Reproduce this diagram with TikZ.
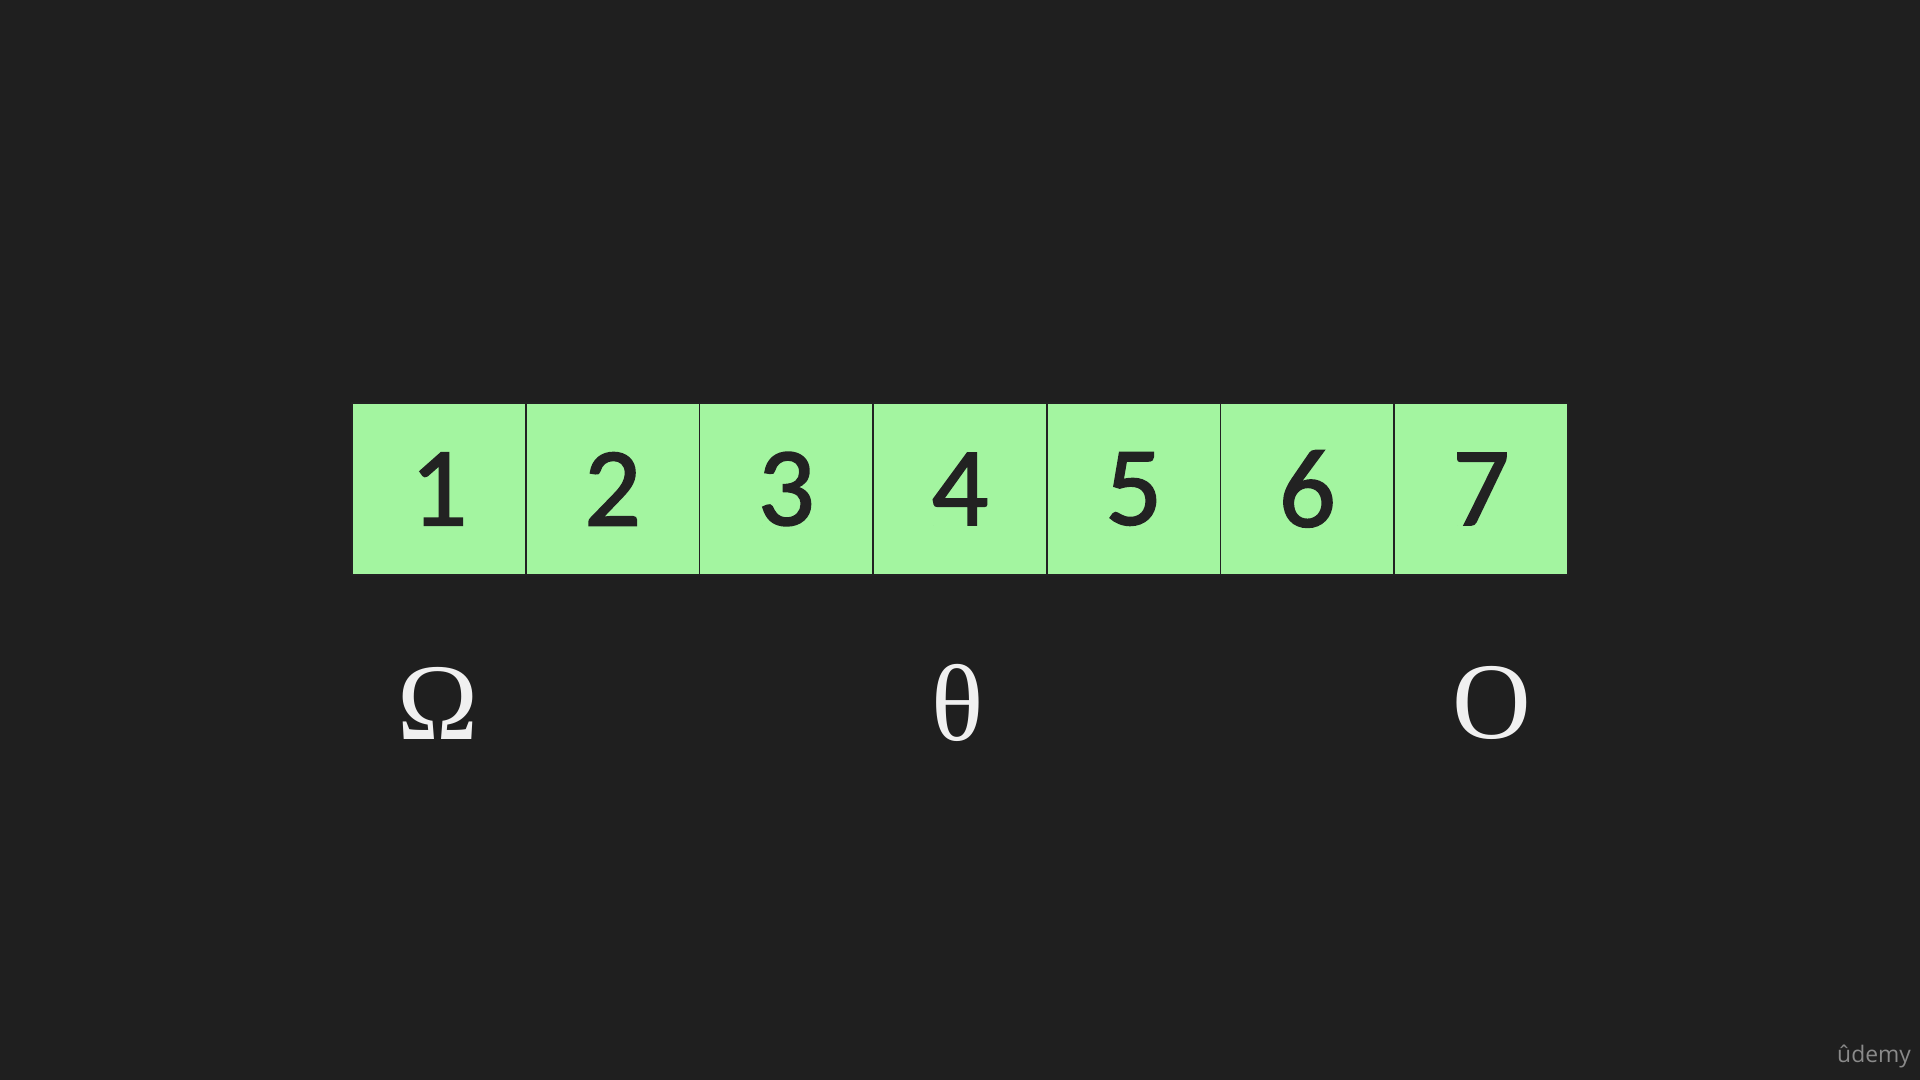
\documentclass[tikz,border=0pt]{standalone}
\usepackage{fontspec}
\setmainfont{Liberation Serif}
\newfontfamily\cellfont[BoldFont=Carlito, BoldFeatures={FakeBold=1.5}]{Carlito}
\newfontfamily\logofont{Open Sans}
\definecolor{bgdark}{HTML}{1F1F1F}
\definecolor{cellgreen}{HTML}{A3F5A0}
\definecolor{inkdark}{HTML}{222222}
\definecolor{symwhite}{HTML}{F0F0F0}
\definecolor{logogray}{HTML}{8A8A8A}
\tikzset{
  cell/.style={rectangle, draw=inkdark, line width=0.5pt, fill=cellgreen, text=inkdark,
    minimum width=1.737cm, minimum height=1.72cm, inner sep=0pt, outer sep=0pt,
    font=\cellfont\bfseries\fontsize{32}{38}\selectfont},
  bound/.style={text=symwhite, inner sep=0pt, font=\fontsize{31}{36}\selectfont}
}

\begin{document}
\begin{tikzpicture}
\fill[bgdark] (0,0) rectangle (19.2,10.8);
\useasboundingbox (0,0) rectangle (19.2,10.8);

\node[cell] (1) at (4.3885,5.91) {1};
\node[cell] (2) at (6.1255,5.91) {2};
\node[cell] (3) at (7.8625,5.91) {3};
\node[cell] (4) at (9.5995,5.91) {4};
\node[cell] (5) at (11.3365,5.91) {5};
\node[cell] (6) at (13.0735,5.91) {6};
\node[cell] (7) at (14.8105,5.91) {7};

\node[bound] (omega) at (4.38,3.77) {Ω};
\node[bound] (theta) at (9.58,3.77) {θ};
\node[bound] (bigo) at (14.92,3.77) {O};

\node[text=logogray, inner sep=0pt, font=\logofont\fontsize{6.5}{8}\selectfont] (logo) at (18.74,0.24) {ûdemy};
\end{tikzpicture}
\end{document}
